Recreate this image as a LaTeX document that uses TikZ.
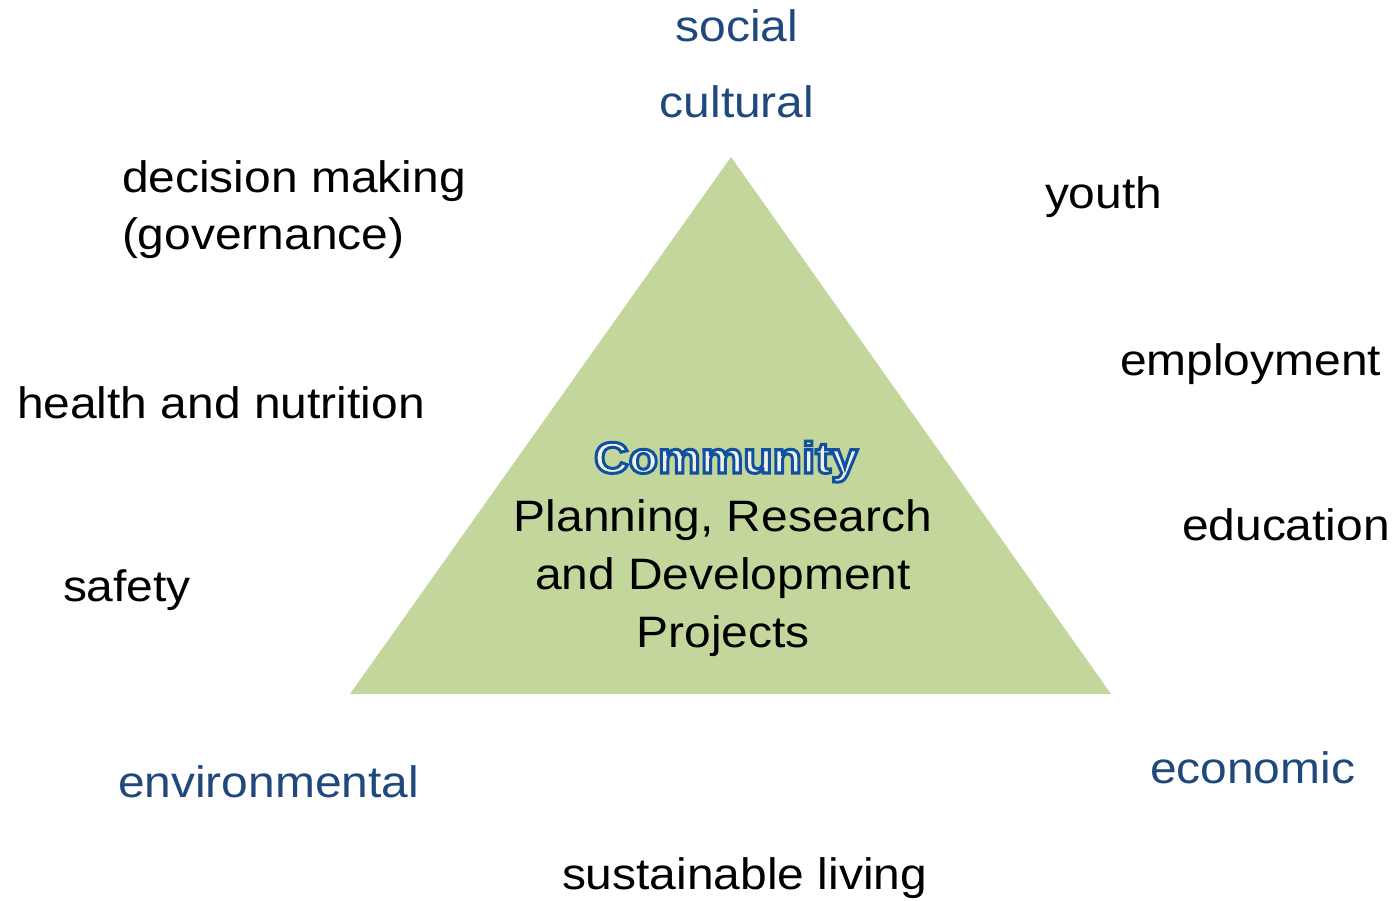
\documentclass[tikz,border=0pt]{standalone}
\usepackage{fontspec}
\setmainfont[FakeStretch=1.09]{Liberation Sans}
\definecolor{trifill}{RGB}{195,214,155}
\definecolor{dimblue}{RGB}{31,73,125}
\definecolor{commblue}{RGB}{16,80,160}
\definecolor{commfill}{RGB}{243,241,230}
\newcommand\outlinedword[1]{\textcolor{commfill}{\special{pdf:code 0.063 0.314 0.627 RG 2 Tr 3 w}#1\special{pdf:code 0 Tr 1 w}}}
\tikzset{
  lbl/.style={inner sep=0pt, outer sep=0pt, font=\fontsize{44}{58}\selectfont, text=black},
  dim/.style={lbl, text=dimblue},
}
\begin{document}
\begin{tikzpicture}[x=1pt,y=-1pt]
\useasboundingbox[fill=white] (0,0) rectangle (1396,901);
% triangle
\coordinate (apex) at (731,157);
\coordinate (bl) at (350,694);
\coordinate (br) at (1111,694);
\fill[trifill] (apex) -- (bl) -- (br) -- cycle;
% centre text
\node[lbl, anchor=base] (comm) at (726,473) {\outlinedword{\bfseries Community}};
\node[lbl, anchor=base] (c1) at (723,531) {Planning, Research};
\node[lbl, anchor=base] (c2) at (723,589) {and Development};
\node[lbl, anchor=base] (c3) at (723,647) {Projects};
% dimension labels
\node[dim, anchor=base] (social) at (737,42) {social};
\node[dim, anchor=base] (cultural) at (737,118) {cultural};
\node[dim, anchor=base west] (env) at (118,797) {environmental};
\node[dim, anchor=base west] (econ) at (1150,783) {economic};
% topic labels
\node[lbl, anchor=base west] (dm1) at (122,193) {decision making};
\node[lbl, anchor=base west] (dm2) at (122,250) {(governance)};
\node[lbl, anchor=base west] (health) at (17,418) {health and nutrition};
\node[lbl, anchor=base west] (safety) at (63,601) {safety};
\node[lbl, anchor=base west] (youth) at (1045,209) {youth};
\node[lbl, anchor=base west] (employ) at (1120,375) {employment};
\node[lbl, anchor=base west] (edu) at (1182,540) {education};
\node[lbl, anchor=base west] (sust) at (562,889) {sustainable living};
\end{tikzpicture}
\end{document}
